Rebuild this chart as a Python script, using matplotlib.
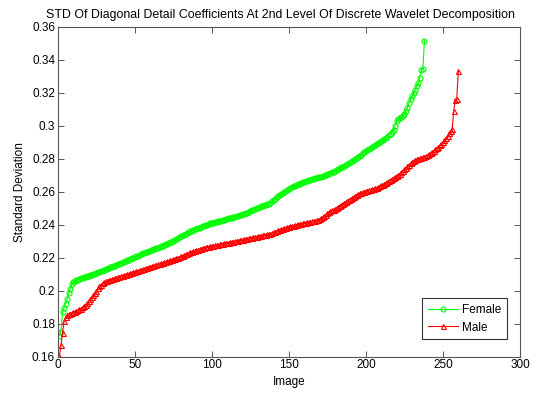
import numpy as np
import matplotlib
matplotlib.use("Agg")
import matplotlib.pyplot as plt
from matplotlib.ticker import FuncFormatter

plt.rcParams['font.family'] = ['Liberation Sans', 'DejaVu Sans']

# sorted per-image STD values, female set
female_std = [
    0.1728, 0.1752, 0.1868, 0.1897, 0.1921, 0.1950, 0.1983, 0.2012, 0.2038, 0.2052,
    0.2058, 0.2063, 0.2067, 0.2070, 0.2074, 0.2078, 0.2081, 0.2084, 0.2088, 0.2091,
    0.2094, 0.2097, 0.2101, 0.2104, 0.2108, 0.2111, 0.2114, 0.2118, 0.2122, 0.2126,
    0.2130, 0.2134, 0.2137, 0.2141, 0.2145, 0.2148, 0.2152, 0.2156, 0.2160, 0.2164,
    0.2168, 0.2172, 0.2176, 0.2180, 0.2184, 0.2188, 0.2193, 0.2197, 0.2201, 0.2205,
    0.2209, 0.2213, 0.2218, 0.2222, 0.2226, 0.2229, 0.2232, 0.2236, 0.2239, 0.2243,
    0.2246, 0.2250, 0.2253, 0.2257, 0.2261, 0.2265, 0.2269, 0.2273, 0.2277, 0.2281,
    0.2285, 0.2289, 0.2293, 0.2297, 0.2302, 0.2307, 0.2312, 0.2318, 0.2324, 0.2330,
    0.2335, 0.2340, 0.2345, 0.2350, 0.2355, 0.2359, 0.2363, 0.2367, 0.2371, 0.2374,
    0.2378, 0.2382, 0.2386, 0.2390, 0.2394, 0.2398, 0.2401, 0.2404, 0.2408, 0.2411,
    0.2413, 0.2416, 0.2418, 0.2421, 0.2423, 0.2425, 0.2428, 0.2430, 0.2433, 0.2435,
    0.2438, 0.2440, 0.2443, 0.2445, 0.2448, 0.2451, 0.2454, 0.2457, 0.2460, 0.2463,
    0.2466, 0.2469, 0.2473, 0.2477, 0.2482, 0.2487, 0.2492, 0.2496, 0.2500, 0.2504,
    0.2508, 0.2512, 0.2515, 0.2518, 0.2521, 0.2524, 0.2528, 0.2534, 0.2541, 0.2549,
    0.2557, 0.2565, 0.2573, 0.2581, 0.2588, 0.2594, 0.2600, 0.2606, 0.2612, 0.2617,
    0.2622, 0.2627, 0.2632, 0.2637, 0.2641, 0.2645, 0.2649, 0.2653, 0.2656, 0.2659,
    0.2662, 0.2665, 0.2668, 0.2671, 0.2674, 0.2677, 0.2680, 0.2683, 0.2686, 0.2689,
    0.2692, 0.2695, 0.2698, 0.2702, 0.2706, 0.2710, 0.2714, 0.2718, 0.2722, 0.2727,
    0.2732, 0.2737, 0.2742, 0.2747, 0.2752, 0.2757, 0.2762, 0.2767, 0.2772, 0.2778,
    0.2784, 0.2790, 0.2797, 0.2804, 0.2811, 0.2818, 0.2825, 0.2832, 0.2839, 0.2846,
    0.2853, 0.2860, 0.2866, 0.2872, 0.2878, 0.2884, 0.2890, 0.2896, 0.2902, 0.2908,
    0.2913, 0.2918, 0.2924, 0.2932, 0.2942, 0.2952, 0.2962, 0.2975, 0.3000, 0.3030,
    0.3038, 0.3045, 0.3052, 0.3060, 0.3072, 0.3088, 0.3110, 0.3140, 0.3160, 0.3178,
    0.3198, 0.3218, 0.3238, 0.3258, 0.3290, 0.3338, 0.3345, 0.3515,
]

# sorted per-image STD values, male set
male_std = [
    0.1605, 0.1668, 0.1745, 0.1815, 0.1842, 0.1850, 0.1856, 0.1861, 0.1865, 0.1869,
    0.1873, 0.1877, 0.1881, 0.1886, 0.1892, 0.1899, 0.1907, 0.1916, 0.1926, 0.1937,
    0.1949, 0.1961, 0.1974, 0.1988, 0.2001, 0.2014, 0.2026, 0.2036, 0.2044, 0.2051,
    0.2056, 0.2060, 0.2064, 0.2067, 0.2070, 0.2073, 0.2076, 0.2079, 0.2082, 0.2085,
    0.2088, 0.2091, 0.2094, 0.2097, 0.2100, 0.2103, 0.2106, 0.2109, 0.2112, 0.2114,
    0.2117, 0.2120, 0.2123, 0.2126, 0.2129, 0.2132, 0.2135, 0.2138, 0.2141, 0.2144,
    0.2147, 0.2150, 0.2153, 0.2156, 0.2159, 0.2162, 0.2165, 0.2168, 0.2171, 0.2174,
    0.2177, 0.2180, 0.2183, 0.2186, 0.2189, 0.2192, 0.2196, 0.2200, 0.2204, 0.2208,
    0.2212, 0.2216, 0.2220, 0.2224, 0.2228, 0.2232, 0.2236, 0.2240, 0.2243, 0.2246,
    0.2249, 0.2252, 0.2255, 0.2258, 0.2260, 0.2262, 0.2264, 0.2266, 0.2268, 0.2270,
    0.2272, 0.2274, 0.2276, 0.2278, 0.2280, 0.2282, 0.2284, 0.2286, 0.2288, 0.2290,
    0.2292, 0.2294, 0.2296, 0.2298, 0.2300, 0.2302, 0.2304, 0.2306, 0.2308, 0.2310,
    0.2312, 0.2314, 0.2316, 0.2318, 0.2320, 0.2322, 0.2324, 0.2326, 0.2328, 0.2330,
    0.2332, 0.2334, 0.2336, 0.2338, 0.2340, 0.2342, 0.2344, 0.2346, 0.2349, 0.2353,
    0.2357, 0.2361, 0.2365, 0.2368, 0.2371, 0.2374, 0.2377, 0.2380, 0.2383, 0.2386,
    0.2389, 0.2392, 0.2395, 0.2398, 0.2400, 0.2402, 0.2404, 0.2406, 0.2408, 0.2410,
    0.2412, 0.2414, 0.2416, 0.2418, 0.2420, 0.2422, 0.2424, 0.2427, 0.2430, 0.2434,
    0.2440, 0.2447, 0.2454, 0.2461, 0.2468, 0.2474, 0.2480, 0.2486, 0.2492, 0.2498,
    0.2504, 0.2510, 0.2516, 0.2522, 0.2528, 0.2534, 0.2540, 0.2546, 0.2552, 0.2558,
    0.2564, 0.2570, 0.2576, 0.2582, 0.2587, 0.2591, 0.2595, 0.2598, 0.2601, 0.2604,
    0.2607, 0.2610, 0.2613, 0.2616, 0.2619, 0.2622, 0.2625, 0.2629, 0.2633, 0.2638,
    0.2643, 0.2649, 0.2655, 0.2661, 0.2667, 0.2673, 0.2679, 0.2685, 0.2691, 0.2697,
    0.2703, 0.2710, 0.2718, 0.2727, 0.2736, 0.2745, 0.2754, 0.2763, 0.2772, 0.2781,
    0.2788, 0.2793, 0.2797, 0.2801, 0.2804, 0.2807, 0.2810, 0.2813, 0.2816, 0.2820,
    0.2826, 0.2833, 0.2840, 0.2848, 0.2856, 0.2864, 0.2872, 0.2880, 0.2890, 0.2900,
    0.2912, 0.2925, 0.2940, 0.2955, 0.2968, 0.2978, 0.3087, 0.3157, 0.3162, 0.3332,
]

x_ticks = [0, 50, 100, 150, 200, 250, 300]
y_ticks = [0.16, 0.18, 0.2, 0.22, 0.24, 0.26, 0.28, 0.3, 0.32, 0.34, 0.36]

fig = plt.figure(figsize=(5.36, 3.94), dpi=100)
ax = fig.add_axes([0.108, 0.0947, 0.862, 0.8376])

female_x = np.arange(1, len(female_std) + 1)
male_x = np.arange(1, len(male_std) + 1)

ax.plot(female_x, female_std, color='#00ff00', marker='o', markersize=3.6,
        markerfacecolor='none', markeredgewidth=0.8, linewidth=0.8, label='Female')
ax.plot(male_x, male_std, color='#ff0000', marker='^', markersize=3.6,
        markerfacecolor='none', markeredgewidth=0.8, linewidth=0.8, label='Male')

ax.set_xlim(0, 300)
ax.set_ylim(0.16, 0.36)
ax.set_xticks(x_ticks)
ax.set_yticks(y_ticks)
ax.yaxis.set_major_formatter(FuncFormatter(lambda v, p: '%g' % round(v, 2)))

ax.tick_params(direction='in', length=4, width=0.7, color='#555555',
               top=True, right=True, labelsize=8.5, pad=2)
for s in ax.spines.values():
    s.set_color('#555555')
    s.set_linewidth(0.8)

ax.set_title('STD Of Diagonal Detail Coefficients At 2nd Level Of Discrete Wavelet Decomposition',
             fontsize=8.9, pad=6, x=0.482)
ax.set_xlabel('Image', fontsize=8.5, labelpad=3)
ax.set_ylabel('Standard Deviation', fontsize=8.5, labelpad=4)

leg = ax.legend(loc='lower right', bbox_to_anchor=(0.971, 0.054), borderaxespad=0,
                fontsize=8.5, fancybox=False, framealpha=1, edgecolor='#333333',
                handlelength=2.6, handletextpad=0.3, borderpad=0.45, labelspacing=0.5)
leg.get_frame().set_linewidth(0.8)

fig.savefig('out.png', dpi=100)
